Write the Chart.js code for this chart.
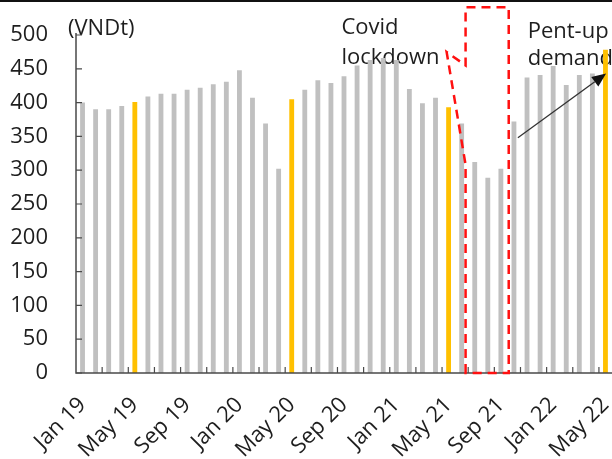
<!DOCTYPE html>
<html>
<head>
<meta charset="utf-8">
<script src="https://cdn.jsdelivr.net/npm/chart.js@4/dist/chart.umd.min.js"></script>
<style>
  html, body { margin: 0; padding: 0; background: #fff; }
  #wrap { width: 612px; height: 459px; }
</style>
</head>
<body>
<div id="wrap"><canvas id="c" width="612" height="459"></canvas></div>
<script>
// Monthly volumes, Jan 2019 – May 2022 (VND trillion)
const months = [
  'Jan 19','Feb 19','Mar 19','Apr 19','May 19','Jun 19','Jul 19','Aug 19','Sep 19','Oct 19','Nov 19','Dec 19',
  'Jan 20','Feb 20','Mar 20','Apr 20','May 20','Jun 20','Jul 20','Aug 20','Sep 20','Oct 20','Nov 20','Dec 20',
  'Jan 21','Feb 21','Mar 21','Apr 21','May 21','Jun 21','Jul 21','Aug 21','Sep 21','Oct 21','Nov 21','Dec 21',
  'Jan 22','Feb 22','Mar 22','Apr 22','May 22'
];
const values = [
  400, 390, 390, 395, 401, 409, 413, 413, 419, 422, 427, 431,
  448, 407, 369, 302, 405, 419, 433, 429, 439, 455, 463, 466,
  463, 420, 399, 407, 393, 369, 312, 289, 302, 372, 437, 441,
  454, 426, 441, 443, 478
];
const yTicks = [0, 50, 100, 150, 200, 250, 300, 350, 400, 450, 500];
const unitLabel = '(VNDt)';
const noteLockdown = ['Covid', 'lockdown'];
const notePentUp = ['Pent-up', 'demand'];

const GREY = '#C0C0C0';
const GOLD = '#FFC000';
const AXIS = '#4a4a4a';
const TEXT = '#1e1e1e';
const FONT = '"Open Sans", "DejaVu Sans", sans-serif';

const barColors = months.map(m => m.startsWith('May') ? GOLD : GREY);

// helpers to place annotations in data space (fractional category index, value)
function xAt(chart, idx) {
  const s = chart.scales.x;
  const a = s.getPixelForValue(0), b = s.getPixelForValue(1);
  return a + (b - a) * idx;
}
function yAt(chart, v) { return chart.scales.y.getPixelForValue(v); }

const annotations = {
  id: 'annotations',
  beforeDatasetsDraw(chart) {
    const ctx = chart.ctx;
    ctx.save();
    ctx.fillStyle = TEXT;
    ctx.font = '22px ' + FONT;
    ctx.textBaseline = 'middle';
    ctx.textAlign = 'left';
    ctx.fillText(unitLabel, chart.chartArea.left - 8, yAt(chart, 510));
    ctx.fillText(noteLockdown[0], xAt(chart, 19.8), yAt(chart, 511));
    ctx.fillText(noteLockdown[1], xAt(chart, 19.8), yAt(chart, 466));
    ctx.fillText(notePentUp[0], xAt(chart, 34.05), yAt(chart, 505));
    ctx.fillText(notePentUp[1], xAt(chart, 34.05), yAt(chart, 465));
    ctx.restore();
  },
  afterDatasetsDraw(chart) {
    const ctx = chart.ctx;
    const { left, right, top, bottom } = chart.chartArea;
    ctx.save();

    // axes
    ctx.strokeStyle = AXIS;
    ctx.lineWidth = 1.5;
    ctx.beginPath();
    ctx.moveTo(left, top - 2);
    ctx.lineTo(left, bottom);
    ctx.lineTo(right, bottom);
    ctx.stroke();

    // inward tick marks
    ctx.lineWidth = 1.2;
    ctx.beginPath();
    yTicks.forEach(v => {
      const y = yAt(chart, v);
      ctx.moveTo(left, y);
      ctx.lineTo(left + 6, y);
    });
    for (let k = 1; k < months.length - 1; k += 2) {
      const x = xAt(chart, k + 0.5);
      ctx.moveTo(x, bottom);
      ctx.lineTo(x, bottom - 6);
    }
    ctx.stroke();

    // lockdown callout (dashed)
    const L = xAt(chart, 29.3), R = xAt(chart, 32.6);
    const T = yAt(chart, 541), B = yAt(chart, 0);
    ctx.strokeStyle = '#FF1010';
    ctx.lineWidth = 2.5;
    ctx.setLineDash([9, 6]);
    ctx.beginPath();
    ctx.moveTo(L, B);
    ctx.lineTo(L, yAt(chart, 308));
    ctx.lineTo(xAt(chart, 27.85), yAt(chart, 475));
    ctx.lineTo(L, yAt(chart, 455));
    ctx.lineTo(L, T);
    ctx.lineTo(R, T);
    ctx.lineTo(R, B);
    ctx.closePath();
    ctx.stroke();
    ctx.setLineDash([]);

    // pent-up demand arrow
    const x0 = xAt(chart, 33.3), y0 = yAt(chart, 348);
    const x1 = xAt(chart, 40.05), y1 = yAt(chart, 443);
    const ang = Math.atan2(y1 - y0, x1 - x0);
    const hl = 14, hw = 6;
    ctx.strokeStyle = '#333';
    ctx.fillStyle = '#111';
    ctx.lineWidth = 1.3;
    ctx.beginPath();
    ctx.moveTo(x0, y0);
    ctx.lineTo(x1 - hl * Math.cos(ang), y1 - hl * Math.sin(ang));
    ctx.stroke();
    ctx.beginPath();
    ctx.moveTo(x1, y1);
    ctx.lineTo(x1 - hl * Math.cos(ang) + hw * Math.sin(ang), y1 - hl * Math.sin(ang) - hw * Math.cos(ang));
    ctx.lineTo(x1 - hl * Math.cos(ang) - hw * Math.sin(ang), y1 - hl * Math.sin(ang) + hw * Math.cos(ang));
    ctx.closePath();
    ctx.fill();

    // frame line across the top
    ctx.fillStyle = '#111';
    ctx.fillRect(0, 0, chart.width, 2);
    ctx.restore();
  }
};

new Chart(document.getElementById('c'), {
  type: 'bar',
  data: {
    labels: months,
    datasets: [{
      data: values,
      backgroundColor: barColors,
      borderWidth: 0,
      barPercentage: 0.37,
      categoryPercentage: 1.0
    }]
  },
  options: {
    responsive: false,
    devicePixelRatio: 1,
    animation: false,
    layout: { padding: { top: 35, left: 0, right: 0, bottom: 0 } },
    plugins: { legend: { display: false }, tooltip: { enabled: false } },
    scales: {
      x: {
        type: 'category',
        offset: true,
        grid: { display: false, drawTicks: false },
        border: { display: false },
        ticks: {
          autoSkip: false,
          minRotation: 45,
          maxRotation: 45,
          padding: 19,
          color: TEXT,
          font: { family: FONT, size: 22 },
          callback: (v, i) => (i % 4 === 0 ? months[i] : '')
        },
        afterFit(s) { s.height = 86; s.paddingLeft = 0; s.paddingRight = 0; }
      },
      y: {
        min: 0,
        max: 500,
        grid: { display: false, drawTicks: false },
        border: { display: false },
        afterBuildTicks(s) { s.ticks = yTicks.map(v => ({ value: v })); },
        ticks: {
          padding: 28,
          color: TEXT,
          font: { family: FONT, size: 22 }
        },
        afterFit(s) { s.width = 76; s.paddingTop = 0; s.paddingBottom = 0; }
      }
    }
  },
  plugins: [annotations]
});
</script>
</body>
</html>
